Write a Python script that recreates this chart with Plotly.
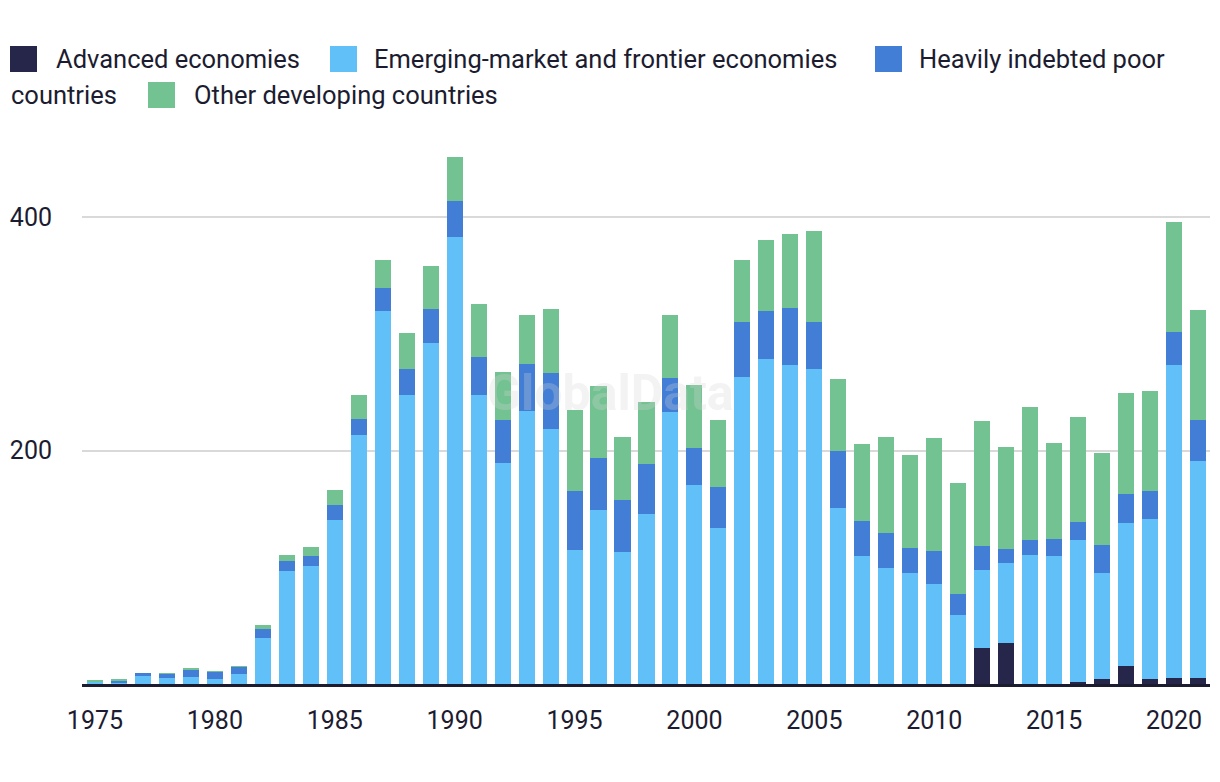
import plotly.graph_objects as go

years = list(range(1975, 2022))

advanced = [0]*37 + [30.9, 35.1, 0, 0, 1.7, 4.3, 15.4, 4.3, 5.1, 5.1]

emerging = [2.0, 1.7, 6.9, 5.1, 6.0, 4.3, 8.6, 39.7, 96.7, 100.9,
            140.5, 213.6, 319.2, 247.9, 291.7, 382.8, 247.9, 189.3, 234.0, 218.6,
            114.9, 149.1, 113.1, 145.7, 233.1, 170.6, 133.7, 263.1, 278.6, 273.4,
            270.0, 150.9, 109.7, 99.4, 95.1, 85.7, 59.1, 66.8, 68.6, 110.6,
            109.7, 121.7, 90.8, 122.6, 137.1, 268.3, 186.0]

hipc = [0.0, 1.7, 2.5, 3.5, 6.0, 6.0, 6.0, 7.6, 8.6, 8.6,
        12.8, 13.6, 19.6, 22.2, 29.9, 30.8, 32.6, 37.0, 40.3, 48.0,
        50.5, 44.6, 44.6, 42.9, 29.2, 31.7, 35.2, 47.2, 41.1, 48.9,
        40.3, 48.8, 30.0, 30.0, 21.5, 28.3, 18.0, 20.6, 12.0, 12.8,
        14.6, 15.5, 24.0, 24.9, 24.0, 28.3, 35.2]

other = [0.6, 0.9, 0.0, 0.8, 1.7, 0.8, 0.8, 3.5, 5.1, 7.7,
         13.0, 20.7, 24.2, 30.2, 36.1, 37.9, 44.6, 40.6, 42.0, 54.8,
         69.5, 61.7, 54.0, 53.1, 54.0, 54.0, 57.4, 53.0, 60.9, 63.4,
         78.0, 61.7, 66.0, 82.3, 79.7, 96.9, 95.2, 107.1, 87.4, 114.0,
         82.3, 90.0, 78.9, 86.5, 85.7, 94.3, 94.3]

series_names = ["Advanced economies", "Emerging-market and frontier economies",
                "Heavily indebted poor countries", "Other developing countries"]
series_values = [advanced, emerging, hipc, other]
colors = ["#26264A", "#62C0F8", "#427ED6", "#72C391"]

x_ticks = list(range(1975, 2021, 5))
y_ticks = [200, 400]

FONT = "Roboto"
TEXT = "#1C1C30"

# page body has an 8px margin; figure is sized to fit the window inside it
OFF = 8
W, H = 1220 - 2 * OFF, 782 - 2 * OFF
# plot area in window pixels: x 82..1210, y 147..684
L = 82 - OFF
R = W - (1210 - OFF)
T = 147 - OFF
B = H - (684 - OFF)

fig = go.Figure()
for name, vals, col in zip(series_names, series_values, colors):
    fig.add_trace(go.Bar(x=years, y=vals, name=name, marker_color=col,
                         marker_line_width=0))

def px_x(p):
    return (p - OFF - L) / (W - L - R)

def px_y(p):
    return (H - B - (p - OFF)) / (H - T - B)

# manual flowing legend (row, square-left, text-left, label)
legend_items = [
    (0, 10, 55, "Advanced economies", colors[0]),
    (0, 330, 373, "Emerging-market and frontier economies", colors[1]),
    (0, 875, 918, "Heavily indebted poor", colors[2]),
    (1, None, 10, "countries", None),
    (1, 148, 193, "Other developing countries", colors[3]),
]
row_center = [59, 95]
shapes = []
annotations = []
for row, sq, tx, label, col in legend_items:
    cy = row_center[row]
    if sq is not None:
        shapes.append(dict(type="rect", xref="paper", yref="paper",
                           x0=px_x(sq), x1=px_x(sq + 27),
                           y0=px_y(cy + 13), y1=px_y(cy - 13),
                           fillcolor=col, line_width=0, layer="above"))
    annotations.append(dict(x=px_x(tx - 1), y=px_y(cy), xref="paper", yref="paper",
                            text=label, showarrow=False, xanchor="left",
                            yanchor="middle",
                            font=dict(family=FONT, size=25.5, color=TEXT)))

annotations.append(dict(x=px_x(610), y=px_y(393), xref="paper", yref="paper",
                        text="<b>GlobalData</b>", showarrow=False,
                        font=dict(family=FONT, size=50,
                                  color="rgba(212,212,212,0.28)")))

fig.update_layout(
    barmode="stack",
    bargap=0.33,
    width=W, height=H,
    margin=dict(l=L, r=R, t=T, b=B, pad=0),
    plot_bgcolor="white", paper_bgcolor="white",
    showlegend=False,
    font=dict(family=FONT, size=24, color=TEXT),
    shapes=shapes,
    annotations=annotations,
    xaxis=dict(range=[1974.46, 2021.5], tickvals=x_ticks,
               ticktext=[str(v) for v in x_ticks],
               showgrid=False, zeroline=False,
               showline=True, linecolor="#1C1C30", linewidth=3,
               ticks="outside", ticklen=12, tickcolor="rgba(0,0,0,0)",
               tickfont=dict(family=FONT, size=25, color=TEXT)),
    yaxis=dict(range=[0, 460], tickvals=y_ticks,
               ticktext=[str(v) for v in y_ticks],
               showgrid=True, gridcolor="#D9D9D9", gridwidth=2,
               zeroline=False, showline=False,
               ticks="outside", ticklen=24, tickcolor="rgba(0,0,0,0)",
               tickfont=dict(family=FONT, size=25, color=TEXT)),
)

fig.write_html("out.html")
